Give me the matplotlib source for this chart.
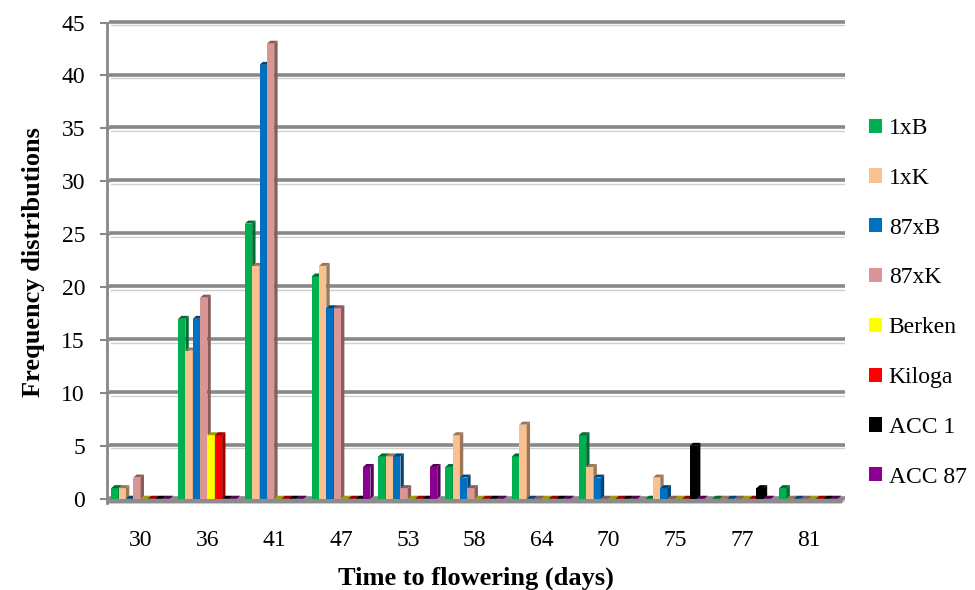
import numpy as np
import matplotlib.pyplot as plt
from matplotlib.patches import Polygon, Patch
from matplotlib.colors import to_rgb

plt.rcParams['font.family'] = ['Liberation Serif', 'DejaVu Serif']

days = ['30', '36', '41', '47', '53', '58', '64', '70', '75', '77', '81']
series_names = ['1xB', '1xK', '87xB', '87xK', 'Berken', 'Kiloga', 'ACC 1', 'ACC 87']
v_1xB = [1, 17, 26, 21, 4, 3, 4, 6, 0, 0, 1]
v_1xK = [1, 14, 22, 22, 4, 6, 7, 3, 2, 0, 0]
v_87xB = [0, 17, 41, 18, 4, 2, 0, 2, 1, 0, 0]
v_87xK = [2, 19, 43, 18, 1, 1, 0, 0, 0, 0, 0]
v_berken = [0, 6, 0, 0, 0, 0, 0, 0, 0, 0, 0]
v_kiloga = [0, 6, 0, 0, 0, 0, 0, 0, 0, 0, 0]
v_acc1 = [0, 0, 0, 0, 0, 0, 0, 0, 5, 1, 0]
v_acc87 = [0, 0, 0, 3, 3, 0, 0, 0, 0, 0, 0]
all_values = [v_1xB, v_1xK, v_87xB, v_87xK, v_berken, v_kiloga, v_acc1, v_acc87]
colors = ['#00B050', '#FAC090', '#0070C0', '#D99694',
          '#FFFF00', '#FF0000', '#000000', '#8B0093']

fig = plt.figure(figsize=(9.75, 5.9), dpi=100)
ax = fig.add_axes([0.11, 0.144, 0.757, 0.825])

x = np.arange(len(days))
bw = 0.11
dx, dy = 0.05, 0.28   # depth offset of the pseudo-3D columns
x0 = -0.5 + 0.06      # back wall starts a little right of the axis line

# back-wall gridlines
for g in range(0, 50, 5):
    ax.plot([x0, 10.5 + dx], [g + dy * 0.3, g + dy * 0.3], color='#888888', lw=2.6, zorder=1)
    ax.plot([x0, 10.5 + dx], [g - 0.25, g - 0.25], color='#d0d0d0', lw=1.0, zorder=1)
    ax.plot([-0.5, x0], [g - 0.1, g + dy * 0.3], color='#888888', lw=1.5, zorder=1)

# floor
floor = Polygon([(-0.5, -0.45), (10.5, -0.45), (10.5 + dx, 0.15), (x0, 0.15)],
                closed=True, facecolor='#8c8c8c', edgecolor='none', zorder=2)
ax.add_patch(floor)

for i, (vals, col) in enumerate(zip(all_values, colors)):
    dark = tuple(c * 0.62 for c in to_rgb(col))
    for xi, h in zip(x, vals):
        left = xi + (i - 3.5) * bw - bw / 2
        right = left + bw
        z = 3 + i * 0.01
        if h > 0:
            ax.bar(left, h, width=bw, align='edge', color=col, edgecolor='none', zorder=z)
            side = Polygon([(right, 0), (right + dx, dy), (right + dx, h + dy), (right, h)],
                           closed=True, facecolor=dark, edgecolor='none', zorder=z)
            ax.add_patch(side)
        top = Polygon([(left, h), (left + dx, h + dy), (right + dx, h + dy), (right, h)],
                      closed=True, facecolor=dark, edgecolor='none', zorder=z)
        ax.add_patch(top)

ax.set_xlim(-0.5, 10.5 + dx)
ax.set_ylim(-0.6, 45.4)
ax.set_xticks(x)
ax.set_xticklabels(days, fontsize=17)
ax.set_yticks(range(0, 50, 5))
ax.tick_params(axis='y', labelsize=17, length=5, width=1.5, color='#888888', pad=11)
ax.tick_params(axis='x', length=0, pad=18)
for s in ['top', 'right', 'bottom']:
    ax.spines[s].set_visible(False)
ax.spines['left'].set_color('#888888')
ax.spines['left'].set_linewidth(2)
ax.spines['left'].set_bounds(-0.4, 45)

ax.set_xlabel('Time to flowering (days)', fontsize=19, fontweight='bold', labelpad=11)
ax.set_ylabel('Frequency distributions', fontsize=19, fontweight='bold', labelpad=12)

handles = [Patch(facecolor=c, edgecolor='none') for c in colors]
fig.legend(handles, series_names, loc='upper left', bbox_to_anchor=(0.891, 0.80),
           frameon=False, fontsize=17, handlelength=0.55, handleheight=0.55,
           handletextpad=0.3, labelspacing=1.22, borderpad=0, borderaxespad=0)

fig.savefig('out.png', dpi=100)
